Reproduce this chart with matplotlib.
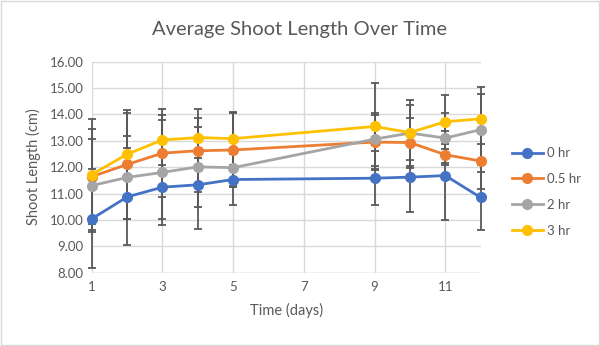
import matplotlib
matplotlib.use("Agg")
import matplotlib.pyplot as plt
from matplotlib.patches import Rectangle
from matplotlib.ticker import FormatStrFormatter

days = [1, 2, 3, 4, 5, 9, 10, 11, 12]
series_names = ["0 hr", "0.5 hr", "2 hr", "3 hr"]
mean_0hr = [10.04, 10.87, 11.24, 11.33, 11.53, 11.58, 11.62, 11.68, 10.85]
mean_05hr = [11.64, 12.10, 12.53, 12.62, 12.65, 12.95, 12.93, 12.47, 12.23]
mean_2hr = [11.30, 11.61, 11.80, 12.01, 11.98, 13.06, 13.29, 13.10, 13.42]
mean_3hr = [11.72, 12.49, 13.03, 13.12, 13.08, 13.54, 13.31, 13.72, 13.83]
err_0hr = [1.87, 1.84, 1.22, 1.68, 0.98, 1.03, 1.34, 1.70, 1.23]
err_05hr = [1.81, 2.07, 1.67, 1.58, 1.40, 1.03, 0.95, 0.40, 1.07]
err_2hr = [1.77, 1.58, 2.00, 1.52, 0.70, 1.00, 1.26, 0.94, 1.62]
err_3hr = [2.11, 1.56, 0.95, 0.76, 1.01, 1.64, 1.05, 1.03, 0.95]
colors = ["#4472C4", "#ED7D31", "#A5A5A5", "#FFC000"]

means = [mean_0hr, mean_05hr, mean_2hr, mean_3hr]
errs = [err_0hr, err_05hr, err_2hr, err_3hr]

plt.rcParams["font.family"] = ["Lato", "DejaVu Sans"]

fig = plt.figure(figsize=(6.0, 3.46), dpi=100)
ax = fig.add_axes([0.153, 0.212, 0.648, 0.610])

for i, (name, m, e, c) in enumerate(zip(series_names, means, errs, colors)):
    eb = ax.errorbar(days, m, yerr=e, color="#595959", ecolor="#595959",
                     elinewidth=1.3, capsize=3.2, capthick=1.3, fmt="none",
                     zorder=3 + i * 0.1)
    for art in eb.lines[1] + eb.lines[2]:
        art.set_clip_on(False)
    for art in eb.lines[2]:
        art.set_clip_on(False)
    ax.plot(days, m, color=c, lw=2.0, marker="o", markersize=7,
            markerfacecolor=c, markeredgecolor=c, label=name,
            zorder=4 + i * 0.1, clip_on=False)

ax.set_xlim(1, 12)
ax.set_ylim(8, 16)
ax.set_xticks([1, 3, 5, 7, 9, 11])
ax.set_yticks(range(8, 17))
ax.yaxis.set_major_formatter(FormatStrFormatter("%.2f"))
ax.grid(True, color="#D9D9D9", lw=1.0, zorder=0)
for s in ax.spines.values():
    s.set_visible(False)
ax.axhline(8, color="#D9D9D9", lw=1.0, zorder=1)
ax.tick_params(length=0, labelsize=9.5, colors="#595959", pad=6)
ax.set_axisbelow(True)

ax.set_xlabel("Time (days)", fontsize=10.5, color="#595959", labelpad=7)
ax.set_ylabel("Shoot Length (cm)", fontsize=10.5, color="#595959", labelpad=6)
fig.text(0.5, 0.915, "Average Shoot Length Over Time", ha="center", va="center",
         fontsize=14.5, color="#595959")

leg = fig.legend(loc="upper left", bbox_to_anchor=(0.845, 0.59), frameon=False,
                 fontsize=9.5, handlelength=2.3, labelspacing=1.05, handletextpad=0.35,
                 borderaxespad=0)
for t in leg.get_texts():
    t.set_color("#595959")

fig.patches.append(Rectangle((0.001, 0.002), 0.997, 0.995, transform=fig.transFigure,
                             fill=False, edgecolor="#D9D9D9", lw=1.0))

fig.savefig("out.png", dpi=100)
